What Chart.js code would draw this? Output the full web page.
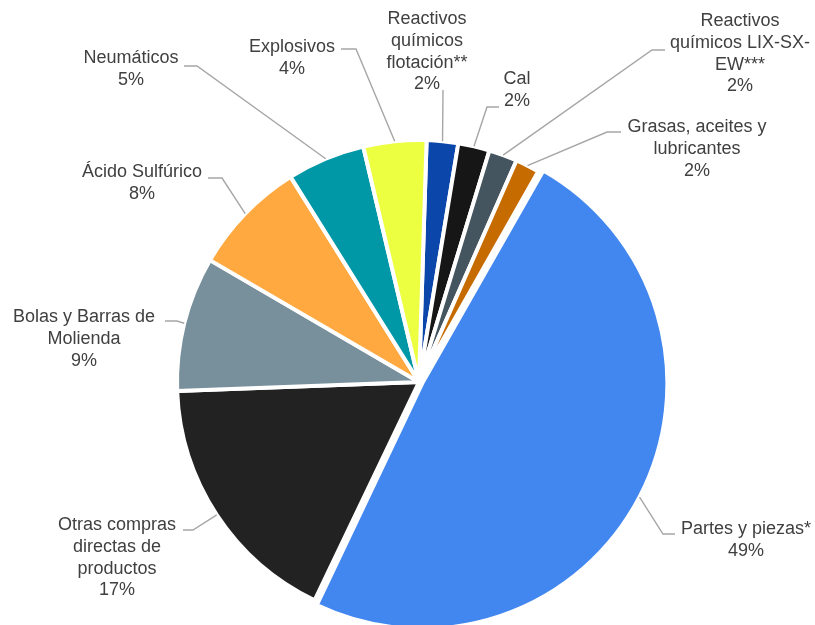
<!DOCTYPE html>
<html lang="es">
<head>
<meta charset="utf-8">
<title>Compras de insumos</title>
<script src="https://cdn.jsdelivr.net/npm/chart.js@4/dist/chart.umd.min.js"></script>
<style>
  html, body { margin: 0; padding: 0; background: #ffffff; }
  #wrap { width: 815px; height: 625px; position: relative; }
</style>
</head>
<body>
<div id="wrap"><canvas id="pie"></canvas></div>
<script>
  // categories in clockwise order, starting just right of 12 o'clock
  const categories = [
    ['Reactivos', 'químicos', 'flotación**'],
    ['Cal'],
    ['Reactivos', 'químicos LIX-SX-', 'EW***'],
    ['Grasas, aceites y', 'lubricantes'],
    ['Partes y piezas*'],
    ['Otras compras', 'directas de', 'productos'],
    ['Bolas y Barras de', 'Molienda'],
    ['Ácido Sulfúrico'],
    ['Neumáticos'],
    ['Explosivos']
  ];
  const shares = [2.1, 2.1, 1.9, 1.6, 48.9, 17.3, 9.0, 7.7, 5.2, 4.2];
  const sliceColors = [
    '#0b47aa', '#161616', '#44555f', '#c66b00', '#4286f0',
    '#222222', '#78909c', '#ffa940', '#0097a7', '#edff41'
  ];
  // only "Partes y piezas" is pulled out of the pie
  const sliceOffsets = [0, 0, 0, 0, 14, 0, 0, 0, 0, 0];

  // label placement: text centre x, first line y, leader elbow and end
  const labelLayout = [
    { x: 427, y: 19, elbow: [443, 90], end: [443, 90] },
    { x: 517, y: 79, elbow: [487, 107], end: [499, 107] },
    { x: 740, y: 21, elbow: [652, 50], end: [665, 50] },
    { x: 697, y: 127, elbow: [607, 132], end: [621, 132] },
    { x: 746, y: 529, elbow: [663, 534], end: [675, 534] },
    { x: 117, y: 525, elbow: [193, 530], end: [183, 530] },
    { x: 84, y: 317, elbow: [177, 321], end: [165, 321] },
    { x: 142, y: 172, elbow: [222, 178], end: [208, 178] },
    { x: 131, y: 58, elbow: [197, 66], end: [184, 66] },
    { x: 292, y: 47, elbow: [356, 49], end: [341, 49] }
  ];

  const FONT = '18px "Liberation Sans", Arial, sans-serif';
  const LINE_H = 21.8;

  const outsideLabels = {
    id: 'outsideLabels',
    afterDatasetsDraw(chart) {
      const ctx = chart.ctx;
      const meta = chart.getDatasetMeta(0);
      const data = chart.data.datasets[0].data;
      const total = data.reduce((a, b) => a + b, 0);

      ctx.save();
      meta.data.forEach((arc, i) => {
        const lay = labelLayout[i];
        const mid = (arc.startAngle + arc.endAngle) / 2;
        // same shift the arc element applies to an offset slice
        const off = (arc.options.offset || 0) / 4;
        const fix = 1 - Math.sin(Math.min(Math.PI, arc.circumference || 0));
        const shift = off + off * fix;
        const r = arc.outerRadius;
        const sx = arc.x + Math.cos(mid) * (r + shift);
        const sy = arc.y + Math.sin(mid) * (r + shift);

        ctx.strokeStyle = '#a6a6a6';
        ctx.lineWidth = 1.4;
        ctx.beginPath();
        ctx.moveTo(sx, sy);
        ctx.lineTo(lay.elbow[0], lay.elbow[1]);
        ctx.lineTo(lay.end[0], lay.end[1]);
        ctx.stroke();

        const lines = categories[i].concat(Math.round(data[i] / total * 100) + '%');
        ctx.fillStyle = '#404040';
        ctx.font = FONT;
        ctx.textAlign = 'center';
        ctx.textBaseline = 'middle';
        lines.forEach((t, k) => ctx.fillText(t, lay.x, lay.y + k * LINE_H));
      });
      ctx.restore();
    }
  };

  new Chart(document.getElementById('pie'), {
    type: 'pie',
    data: {
      labels: categories.map((c) => c.join(' ')),
      datasets: [{
        data: shares,
        backgroundColor: sliceColors,
        borderColor: '#ffffff',
        borderWidth: 4,
        offset: sliceOffsets,
        hoverOffset: 0
      }]
    },
    options: {
      responsive: true,
      maintainAspectRatio: false,
      animation: false,
      rotation: 1.8,
      radius: 242,
      layout: { padding: { left: 23, top: 139, right: 0, bottom: 0 } },
      plugins: {
        legend: { display: false },
        tooltip: { enabled: false }
      },
      events: []
    },
    plugins: [outsideLabels]
  });
</script>
</body>
</html>
